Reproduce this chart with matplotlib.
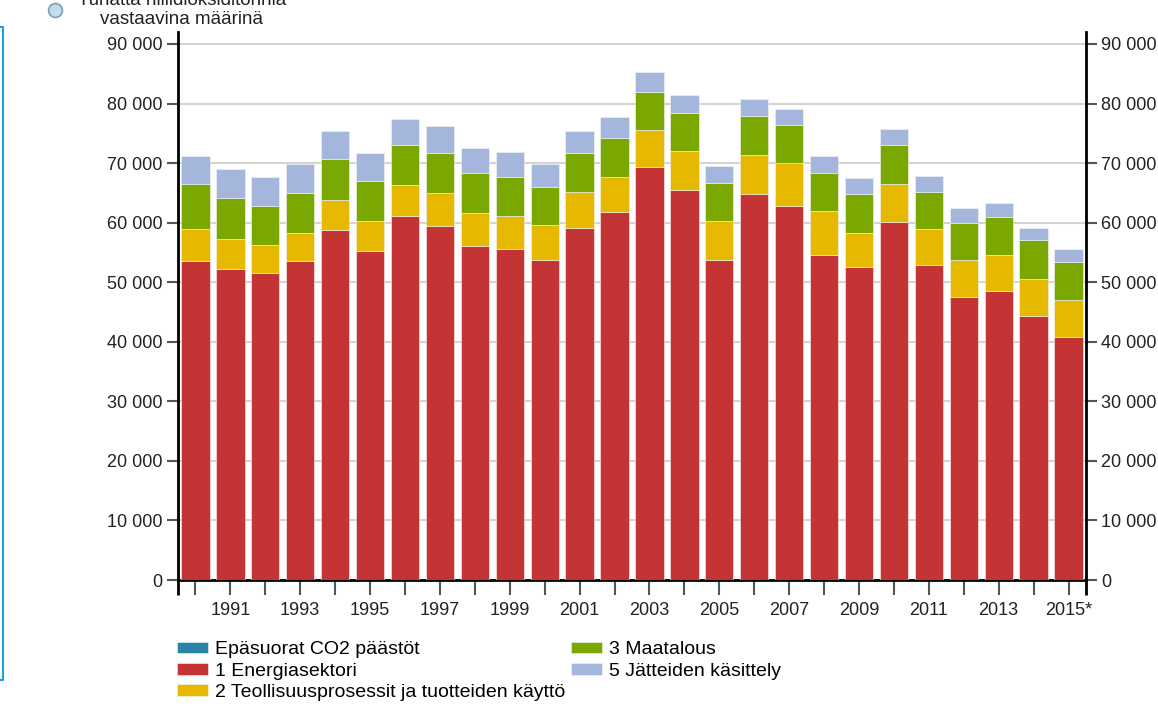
import matplotlib

matplotlib.use("Agg")
import matplotlib.pyplot as plt
from matplotlib.lines import Line2D
from matplotlib.ticker import FuncFormatter

plt.rcParams["font.family"] = ["Liberation Sans", "DejaVu Sans"]

years = list(range(1990, 2016))
year_labels = [str(y) if y % 2 == 1 else "" for y in years]
year_labels[-1] = "2015*"

# kilotonnes CO2 eq. per sector
indirect_co2 = [0] * 26
energy = [53550, 52200, 51550, 53550, 58750, 55300, 61100, 59450, 56100, 55550,
          53700, 59100, 61750, 69300, 65500, 53650, 64850, 62850, 54500, 52550,
          60050, 52900, 47500, 48500, 44400, 40750]
industry = [5420, 5040, 4740, 4750, 5030, 4960, 5140, 5450, 5500, 5600,
            5940, 5970, 5950, 6280, 6450, 6610, 6480, 7080, 7490, 5750,
            6420, 5960, 6160, 6050, 6070, 6200]
agriculture = [7500, 6930, 6540, 6600, 6820, 6710, 6770, 6770, 6660, 6430,
               6380, 6540, 6480, 6380, 6430, 6320, 6490, 6380, 6380, 6430,
               6540, 6320, 6320, 6320, 6540, 6370]
waste = [4750, 4760, 4750, 4870, 4760, 4750, 4470, 4470, 4190, 4200,
         3860, 3750, 3530, 3350, 3130, 2910, 2910, 2850, 2790, 2740,
         2680, 2630, 2460, 2460, 2130, 2180]

series = [
    ("Epäsuorat CO2 päästöt", indirect_co2, "#2784A5"),
    ("1 Energiasektori", energy, "#C43434"),
    ("2 Teollisuusprosessit ja tuotteiden käyttö", industry, "#E6B800"),
    ("3 Maatalous", agriculture, "#7AA800"),
    ("5 Jätteiden käsittely", waste, "#A4B6DC"),
]

fig = plt.figure(figsize=(11.58, 7.15), dpi=100)
ax = fig.add_axes([0.1537, 0.1888, 0.7841, 0.7664])

x = list(range(len(years)))
bottom = [0] * len(years)
handles = []
for name, vals, color in series:
    bars = ax.bar(x, vals, 0.81, bottom=bottom, color=color,
                  edgecolor="#f4f4f4", linewidth=0.4, label=name, zorder=3)
    handles.append(bars)
    bottom = [b + v for b, v in zip(bottom, vals)]

ax.set_xlim(-0.5, 25.5)
ax.set_ylim(0, 92000)
ax.set_yticks(range(0, 90001, 10000))
ax.yaxis.set_major_formatter(FuncFormatter(lambda v, p: f"{v:,.0f}".replace(",", " ")))
ax.grid(axis="y", color="#d4d4d4", linewidth=1.5, zorder=0)

ax.set_xticks(x)
ax.set_xticklabels(year_labels)
ax.set_xticks([-0.5, 25.5], minor=True)
ax.tick_params(axis="x", which="major", length=11, width=1.5, color="#555555",
               labelsize=13, pad=5, labelcolor="#222222")
ax.tick_params(axis="x", which="minor", length=11, width=2, color="black")
ax.tick_params(axis="y", length=8, width=1.5, color="#555555", labelsize=13,
               labelcolor="#222222", right=True, labelright=True, pad=3)

for side in ["left", "right", "bottom"]:
    ax.spines[side].set_linewidth(2)
    ax.spines[side].set_color("black")
ax.spines["top"].set_visible(False)

fig.legend(handles=handles, loc="upper left", bbox_to_anchor=(0.1525, 0.103),
           ncol=2, frameon=False, fontsize=14, handlelength=1.6,
           handleheight=0.55, handletextpad=0.36, labelspacing=0.22,
           columnspacing=0.3, borderaxespad=0, borderpad=0)

# unit caption (first line cut by the page edge, as in the source)
fig.text(0.157, 0.986, "Tuhatta hiilidioksiditonnia\nvastaavina määrinä",
         ha="center", va="center", fontsize=13.5, color="#222222",
         linespacing=1.08)
fig.add_artist(Line2D([0.0475], [0.986], marker="o", markersize=10,
                      markerfacecolor="#c2dcee", markeredgecolor="#7f9db2",
                      markeredgewidth=1.2, transform=fig.transFigure))

# blue frame edge on the left
fig.add_artist(Line2D([0.0, 0.0022, 0.0022, 0.0], [0.962, 0.962, 0.049, 0.049],
                      color="#1a9fe0", linewidth=1.5, transform=fig.transFigure))

fig.savefig("out.png", dpi=100)
